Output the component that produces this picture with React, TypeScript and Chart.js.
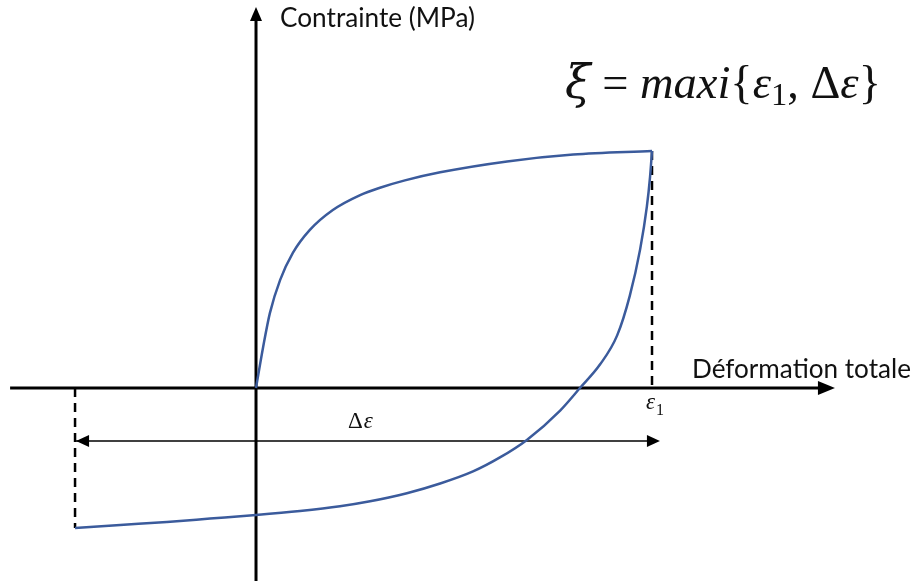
import React, { useEffect, useRef } from "react";
import { Chart, registerables } from "chart.js";

Chart.register(...registerables);

const W = 914;
const H = 581;

// Loading branch (strain normalised by ε1, stress normalised by peak stress)
const loadStrain = [0, 0.018, 0.035, 0.061, 0.093, 0.136, 0.194, 0.263, 0.313, 0.376, 0.465, 0.634, 0.801, 1];
const loadStress = [0, 0.173, 0.316, 0.456, 0.57, 0.667, 0.751, 0.814, 0.845, 0.876, 0.91, 0.956, 0.985, 1];

// Unloading / reverse branch
const unloadStrain = [-0.457, -0.343, -0.225, -0.116, 0, 0.111, 0.212, 0.288, 0.381, 0.465, 0.548, 0.616, 0.684, 0.768, 0.818, 0.869, 0.912, 0.944, 0.97, 0.987, 0.995, 1];
const unloadStress = [-0.591, -0.578, -0.565, -0.551, -0.536, -0.519, -0.499, -0.478, -0.444, -0.403, -0.352, -0.293, -0.219, -0.095, 0, 0.1, 0.222, 0.39, 0.585, 0.765, 0.89, 1];

const epsPeak = 1; // ε1
const sigmaPeak = 1;
const epsMin = -0.457;
const sigmaMin = -0.591;
const deltaArrowY = -0.224;
const deltaArrowEnd = 1.02;

const xAxisRange = [-0.621, 1.462];
const yAxisRange = [-0.83, 1.608];

const viewX = [-0.6465, 1.6616];
const viewY = [-0.8143, 1.6371];

const CURVE = "#3B5B9C";
const SANS = "Lato, 'Open Sans', sans-serif";
const SERIF = "'Liberation Serif', 'DejaVu Serif', serif";
const SERIF_XI = "'DejaVu Serif', 'Liberation Serif', serif";

function pts(xs: number[], ys: number[]) {
  return xs.map((x, i) => ({ x, y: ys[i] }));
}

function arrowHead(ctx: CanvasRenderingContext2D, tx: number, ty: number, dx: number, dy: number, len: number, half: number) {
  const bx = tx - dx * len;
  const by = ty - dy * len;
  const px = -dy;
  const py = dx;
  ctx.beginPath();
  ctx.moveTo(tx, ty);
  ctx.lineTo(bx + px * half, by + py * half);
  ctx.lineTo(bx - px * half, by - py * half);
  ctx.closePath();
  ctx.fill();
}

function fitSize(ctx: CanvasRenderingContext2D, text: string, style: string, family: string, target: number) {
  ctx.font = `${style} 100px ${family}`;
  const w = ctx.measureText(text).width;
  return (100 * target) / w;
}

const decor = {
  id: "decor",
  beforeDatasetsDraw(chart: any) {
    const { ctx } = chart;
    const xs = chart.scales.x;
    const ys = chart.scales.y;
    const x0 = xs.getPixelForValue(0);
    const y0 = ys.getPixelForValue(0);
    ctx.save();
    ctx.strokeStyle = "#000";
    ctx.fillStyle = "#000";
    ctx.lineWidth = 3;
    const xl = xs.getPixelForValue(xAxisRange[0]);
    const xr = xs.getPixelForValue(xAxisRange[1]);
    ctx.beginPath();
    ctx.moveTo(xl, y0);
    ctx.lineTo(xr - 12, y0);
    ctx.stroke();
    arrowHead(ctx, xr, y0, 1, 0, 17, 7);
    const yb = ys.getPixelForValue(yAxisRange[0]);
    const yt = ys.getPixelForValue(yAxisRange[1]);
    ctx.beginPath();
    ctx.moveTo(x0, yb);
    ctx.lineTo(x0, yt + 10);
    ctx.stroke();
    arrowHead(ctx, x0, yt, 0, -1, 14, 6);
    ctx.restore();
  },
  afterDatasetsDraw(chart: any) {
    const { ctx } = chart;
    const xs = chart.scales.x;
    const ys = chart.scales.y;
    const ay = ys.getPixelForValue(deltaArrowY);
    const al = xs.getPixelForValue(epsMin);
    const ar = xs.getPixelForValue(deltaArrowEnd);
    ctx.save();
    ctx.fillStyle = "#000";
    arrowHead(ctx, al + 1, ay, -1, 0, 13, 6);
    arrowHead(ctx, ar, ay, 1, 0, 13, 6);
    ctx.restore();
  },
  afterDraw(chart: any) {
    const { ctx } = chart;
    const xs = chart.scales.x;
    const ys = chart.scales.y;
    const x0 = xs.getPixelForValue(0);
    const y0 = ys.getPixelForValue(0);
    const xe1 = xs.getPixelForValue(epsPeak);
    ctx.save();
    ctx.fillStyle = "#111";
    ctx.textBaseline = "alphabetic";
    ctx.textAlign = "left";

    // axis titles
    const t1 = "Contrainte (MPa)";
    const s1 = fitSize(ctx, t1, "", SANS, 195);
    ctx.font = `${s1}px ${SANS}`;
    ctx.fillText(t1, x0 + 24, 26.5);

    const t2 = "Déformation totale";
    const s2 = fitSize(ctx, t2, "", SANS, 219);
    ctx.font = `${s2}px ${SANS}`;
    ctx.fillText(t2, 692, y0 - 10);

    // Δε label
    ctx.font = `23px ${SERIF}`;
    ctx.fillText("Δ", 348, 428);
    const wD = ctx.measureText("Δ").width;
    ctx.font = `italic 23px ${SERIF}`;
    ctx.fillText("ε", 348 + wD + 1, 428);

    // ε1 label
    ctx.font = `italic 23px ${SERIF}`;
    ctx.fillText("ε", xe1 - 6, 409);
    const wE = ctx.measureText("ε").width;
    ctx.font = `16px ${SERIF}`;
    ctx.fillText("1", xe1 - 5 + wE, 415);

    // formula ξ = maxi{ε1, Δε}
    const pieces = [
      { t: "ξ", it: true, fam: SERIF_XI },
      { t: " = ", it: false },
      { t: "maxi", it: true },
      { t: "{", it: false },
      { t: "ε", it: true },
      { t: "1", it: false, sub: true },
      { t: ", ", it: false },
      { t: "Δ", it: false },
      { t: "ε", it: true },
      { t: "}", it: false },
    ];
    const base = 36;
    const fontFor = (p: any, S: number) =>
      `${p.it ? "italic " : ""}${p.sub ? S * 0.7 : S}px ${p.fam || SERIF}`;
    let total = 0;
    for (const p of pieces) {
      ctx.font = fontFor(p, base);
      total += ctx.measureText(p.t).width;
    }
    const S = (base * 316) / total;
    let cx = 565;
    const bl = 98;
    for (const p of pieces) {
      ctx.font = fontFor(p, S);
      ctx.fillText(p.t, cx, p.sub ? bl + S * 0.15 : bl);
      cx += ctx.measureText(p.t).width;
    }
    ctx.restore();
  },
};

export default function App() {
  const ref = useRef<HTMLCanvasElement | null>(null);
  useEffect(() => {
    if (!ref.current) return;
    const chart = new Chart(ref.current, {
      type: "scatter",
      data: {
        datasets: [
          {
            data: pts(loadStrain, loadStress),
            showLine: true,
            borderColor: CURVE,
            borderWidth: 2.5,
            pointRadius: 0,
            cubicInterpolationMode: "monotone",
          },
          {
            data: pts(unloadStrain, unloadStress),
            showLine: true,
            borderColor: CURVE,
            borderWidth: 2.5,
            pointRadius: 0,
            cubicInterpolationMode: "monotone",
          },
          {
            data: [
              { x: epsPeak, y: sigmaPeak },
              { x: epsPeak, y: 0 },
            ],
            showLine: true,
            borderColor: "#000",
            borderWidth: 2.5,
            borderDash: [9, 6],
            pointRadius: 0,
          },
          {
            data: [
              { x: epsMin, y: 0 },
              { x: epsMin, y: sigmaMin },
            ],
            showLine: true,
            borderColor: "#000",
            borderWidth: 2.5,
            borderDash: [9, 6],
            pointRadius: 0,
          },
          {
            data: [
              { x: epsMin, y: deltaArrowY },
              { x: deltaArrowEnd - 0.02, y: deltaArrowY },
            ],
            showLine: true,
            borderColor: "#000",
            borderWidth: 1.5,
            pointRadius: 0,
          },
        ],
      },
      options: {
        responsive: false,
        animation: false,
        devicePixelRatio: 1,
        layout: { padding: 0 },
        plugins: { legend: { display: false }, tooltip: { enabled: false }, title: { display: false } },
        scales: {
          x: { type: "linear", display: false, min: viewX[0], max: viewX[1] },
          y: { type: "linear", display: false, min: viewY[0], max: viewY[1] },
        },
        events: [],
      },
      plugins: [decor],
    } as any);
    return () => chart.destroy();
  }, []);
  return (
    <div style={{ position: "fixed", left: 0, top: 0, width: W, height: H, background: "#fff" }}>
      <canvas ref={ref} width={W} height={H} style={{ display: "block", width: W, height: H }} />
    </div>
  );
}
